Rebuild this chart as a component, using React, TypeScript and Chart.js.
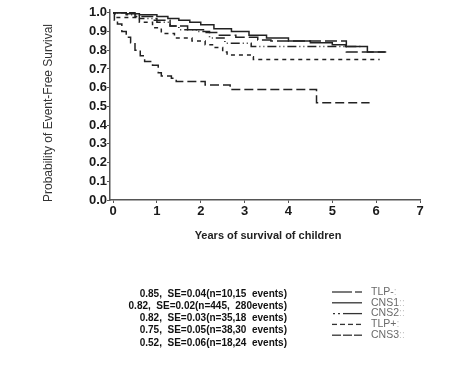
import { useEffect, useRef } from 'react';
import { Chart, registerables } from 'chart.js';

Chart.register(...registerables);

const groupNames = ['TLP-', 'CNS1', 'CNS2', 'TLP+', 'CNS3'];
const legendLabels = ['TLP-', 'CNS1', 'CNS2', 'TLP+', 'CNS3'];
const legendSuffix = [':', '::', '::', ':', '::'];
const statLabels = [
  '0.85,  SE=0.04(n=10,15  events)',
  '0.82,  SE=0.02(n=445,  280events)',
  '0.82,  SE=0.03(n=35,18  events)',
  '0.75,  SE=0.05(n=38,30  events)',
  '0.52,  SE=0.06(n=18,24  events)',
];

const xTickValues = [0, 1, 2, 3, 4, 5, 6, 7];
const yTickValues = [0, 0.1, 0.2, 0.3, 0.4, 0.5, 0.6, 0.7, 0.8, 0.9, 1.0];

const tlpNegTimes = [0, 0.5, 0.9, 1.3, 1.7, 2.1, 2.4, 2.8, 3.3, 3.6, 5.32, 6.2];
const tlpNegSurv = [1.0, 0.98, 0.96, 0.93, 0.91, 0.895, 0.88, 0.87, 0.855, 0.85, 0.79, 0.79];

const cns1Times = [0, 0.3, 0.6, 1.0, 1.25, 1.5, 1.75, 2.0, 2.3, 2.7, 3.1, 3.5, 4.0, 4.5, 5.0, 5.3, 5.8, 6.23];
const cns1Surv = [1.0, 0.995, 0.99, 0.98, 0.97, 0.96, 0.95, 0.936, 0.915, 0.9, 0.88, 0.865, 0.85, 0.84, 0.83, 0.82, 0.79, 0.79];

const cns2Times = [0, 0.3, 0.6, 1.0, 1.3, 1.5, 1.9, 2.2, 2.55, 3.15, 5.7];
const cns2Surv = [1.0, 0.99, 0.97, 0.95, 0.93, 0.91, 0.9, 0.865, 0.838, 0.82, 0.82];

const tlpPosTimes = [0, 0.05, 0.6, 0.9, 1.1, 1.4, 1.8, 2.1, 2.3, 2.5, 2.6, 3.15, 3.2, 6.08];
const tlpPosSurv = [1.0, 0.975, 0.95, 0.92, 0.89, 0.865, 0.85, 0.83, 0.815, 0.79, 0.775, 0.765, 0.75, 0.75];

const cns3Times = [0, 0.03, 0.1, 0.2, 0.3, 0.4, 0.5, 0.62, 0.72, 0.9, 1.03, 1.1, 1.33, 1.44, 2.1, 2.67, 4.64, 5.85];
const cns3Surv = [1.0, 0.96, 0.94, 0.9, 0.87, 0.84, 0.8, 0.77, 0.74, 0.72, 0.68, 0.663, 0.65, 0.633, 0.615, 0.59, 0.52, 0.52];

const seriesTimes = [tlpNegTimes, cns1Times, cns2Times, tlpPosTimes, cns3Times];
const seriesSurv = [tlpNegSurv, cns1Surv, cns2Surv, tlpPosSurv, cns3Surv];
const dashes: number[][] = [[12, 4], [], [1, 3, 1, 3, 9, 3], [4, 4], [9, 4]];

const FONT = '"Liberation Sans", Arial, sans-serif';

export default function App() {
  const ref = useRef<HTMLCanvasElement>(null);

  useEffect(() => {
    document.body.style.margin = '0';
    const canvas = ref.current;
    if (!canvas) return;

    const overlay = {
      id: 'overlay',
      afterDraw(chart: any) {
        const ctx = chart.ctx as CanvasRenderingContext2D;
        const area = chart.chartArea;
        ctx.save();
        ctx.fillStyle = '#333';
        ctx.font = `12px ${FONT}`;
        ctx.textAlign = 'center';
        ctx.textBaseline = 'middle';
        ctx.translate(49, 113);
        ctx.rotate(-Math.PI / 2);
        ctx.fillText('Probability of Event-Free Survival', 0, 0);
        ctx.restore();

        ctx.save();
        ctx.fillStyle = '#222';
        ctx.font = `bold 11px ${FONT}`;
        ctx.textAlign = 'center';
        ctx.textBaseline = 'middle';
        ctx.fillText('Years of survival of children', (area.left + area.right) / 2 + 3, 236);

        // stats block
        ctx.font = `bold 10px ${FONT}`;
        ctx.textAlign = 'right';
        ctx.fillStyle = '#111';
        statLabels.forEach((t, i) => {
          ctx.fillText(t, 287, 294 + i * 12.2);
        });

        // legend
        const ly = legendLabels.map((_, i) => 292 + i * 10.8);
        ctx.strokeStyle = '#333';
        ctx.lineWidth = 1.3;
        const x0 = 332;
        const seg = (a: number, b: number, y: number) => {
          ctx.beginPath();
          ctx.moveTo(x0 + a, y);
          ctx.lineTo(x0 + b, y);
          ctx.stroke();
        };
        seg(0, 20, ly[0]); seg(23, 30, ly[0]);
        seg(0, 30, ly[1]);
        seg(1, 3, ly[2]); seg(6, 8, ly[2]); seg(11, 30, ly[2]);
        for (let k = 0; k < 4; k++) seg(k * 8, Math.min(k * 8 + 5, 30), ly[3]);
        seg(0, 9, ly[4]); seg(11, 20, ly[4]); seg(22, 30, ly[4]);

        ctx.font = `10.5px ${FONT}`;
        ctx.textAlign = 'left';
        legendLabels.forEach((t, i) => {
          ctx.fillStyle = '#6a6a6a';
          ctx.fillText(t, 371, ly[i]);
          const w = ctx.measureText(t).width;
          ctx.fillStyle = '#c4c4c4';
          ctx.fillText(legendSuffix[i], 371 + w, ly[i]);
        });
        ctx.restore();
      },
    };

    const datasets = groupNames.map((name, i) => ({
      label: name,
      data: seriesTimes[i].map((t, j) => ({ x: t, y: seriesSurv[i][j] })),
      borderColor: '#222',
      borderWidth: 1.5,
      borderDash: dashes[i],
      pointRadius: 0,
      fill: false,
      stepped: 'before' as const,
    }));

    const axisColor = '#555';
    const chart = new Chart(canvas, {
      type: 'line',
      data: { datasets },
      options: {
        animation: false,
        responsive: false,
        layout: { padding: { left: 0, right: 53, top: 10, bottom: 123 } },
        plugins: { legend: { display: false }, tooltip: { enabled: false } },
        scales: {
          x: {
            type: 'linear',
            min: -0.07,
            max: 7,
            afterBuildTicks: (s: any) => {
              s.ticks = xTickValues.map((v) => ({ value: v }));
            },
            afterFit: (s: any) => {
              s.height = 44;
            },
            ticks: {
              color: '#1a1a1a',
              padding: 1,
              font: { family: FONT, size: 13, weight: 'bold' },
              callback: (v: any) => String(v),
              maxRotation: 0,
            },
            grid: { display: true, drawOnChartArea: false, drawTicks: true, tickLength: 3, color: axisColor, lineWidth: 1 },
            border: { display: true, color: axisColor, width: 1.5 },
          },
          y: {
            type: 'linear',
            min: 0,
            max: 1.015,
            afterBuildTicks: (s: any) => {
              s.ticks = yTickValues.map((v) => ({ value: v }));
            },
            afterFit: (s: any) => {
              s.width = 110;
            },
            ticks: {
              color: '#1a1a1a',
              padding: 0,
              font: { family: FONT, size: 13, weight: 'bold' },
              callback: (v: any) => Number(v).toFixed(1),
            },
            grid: { display: true, drawOnChartArea: false, drawTicks: true, tickLength: 3, color: axisColor, lineWidth: 1 },
            border: { display: true, color: axisColor, width: 1.5 },
          },
        },
      },
      plugins: [overlay],
    });

    return () => chart.destroy();
  }, []);

  return <canvas ref={ref} width={473} height={367} style={{ display: 'block' }} />;
}
